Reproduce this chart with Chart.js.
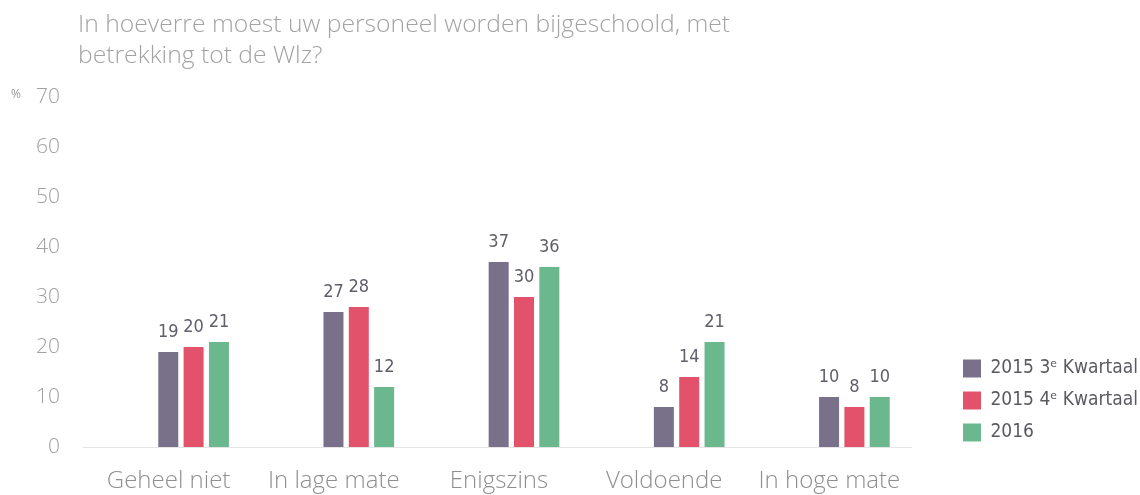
<!DOCTYPE html>
<html><head><meta charset="utf-8">
<script src="https://cdn.jsdelivr.net/npm/chart.js@4"></script>
<style>html,body{margin:0;padding:0;background:#fff}#wrap{width:1140px;height:495px;position:relative}</style>
</head><body><div id="wrap"><canvas id="c" width="1140" height="495"></canvas></div>
<script>
const titleLines = ['In hoeverre moest uw personeel worden bijgeschoold, met', 'betrekking tot de Wlz?'];
const unitLabel = '%';
const categories = ['Geheel niet', 'In lage mate', 'Enigszins', 'Voldoende', 'In hoge mate'];
const seriesNames = ['2015 3\u1D49 Kwartaal', '2015 4\u1D49 Kwartaal', '2016'];
const q3_2015 = [19, 27, 37, 8, 10];
const q4_2015 = [20, 28, 30, 14, 8];
const y2016 = [21, 12, 36, 21, 10];
const yTicks = [0, 10, 20, 30, 40, 50, 60, 70];
const colors = ['#79718a', '#e2536b', '#6bb88e'];

const LIGHT = '"Open Sans", "DejaVu Sans", sans-serif';
const COND = '"DejaVu Sans Condensed", "DejaVu Sans", sans-serif';

const decor = {
  id: 'decor',
  afterLayout(chart) {
    if (chart.legend) { chart.legend.top += 8; chart.legend.bottom += 8; }
  },
  beforeDatasetsDraw(chart) {
    const ctx = chart.ctx, a = chart.chartArea, y0 = chart.scales.y.getPixelForValue(0);
    ctx.save();
    ctx.strokeStyle = '#e4e4e4'; ctx.lineWidth = 1;
    ctx.beginPath(); ctx.moveTo(a.left - 28, Math.round(y0) + 0.5); ctx.lineTo(a.right - 25, Math.round(y0) + 0.5); ctx.stroke();
    ctx.restore();
  },
  afterDraw(chart) {
    const ctx = chart.ctx;
    ctx.save();
    ctx.fillStyle = '#a3a3a3';
    ctx.font = '300 24.7px ' + LIGHT;
    ctx.textBaseline = 'alphabetic'; ctx.textAlign = 'left';
    titleLines.forEach((t, i) => ctx.fillText(t, 78, 32 + i * 31));
    ctx.font = '12px ' + LIGHT; ctx.fillStyle = '#9a9a9a';
    ctx.fillText(unitLabel, 11, chart.scales.y.getPixelForValue(70) + 1);
    ctx.font = '18px ' + COND; ctx.fillStyle = '#605e6a'; ctx.textAlign = 'center'; ctx.textBaseline = 'bottom';
    chart.data.datasets.forEach((ds, di) => {
      chart.getDatasetMeta(di).data.forEach((bar, i) => {
        ctx.fillText(String(ds.data[i]), bar.x, bar.y - 11);
      });
    });
    ctx.restore();
  }
};

new Chart(document.getElementById('c'), {
  type: 'bar',
  data: {
    labels: categories,
    datasets: [
      { label: seriesNames[0], data: q3_2015, backgroundColor: colors[0] },
      { label: seriesNames[1], data: q4_2015, backgroundColor: colors[1] },
      { label: seriesNames[2], data: y2016, backgroundColor: colors[2] }
    ]
  },
  options: {
    responsive: false, animation: false,
    layout: { padding: { top: 97, bottom: 0, left: 0, right: 0 } },
    datasets: { bar: { categoryPercentage: 0.46, barPercentage: 0.79 } },
    scales: {
      x: {
        grid: { display: false, drawTicks: false }, border: { display: false },
        ticks: { color: '#8f8f8f', font: { family: LIGHT, size: 24, weight: 300 }, padding: 20, labelOffset: -25, maxRotation: 0, autoSkip: false },
        afterFit: s => { s.height = 48; s.paddingTop = 0; s.paddingBottom = 0; }
      },
      y: {
        min: 0, max: 70,
        afterBuildTicks: s => { s.ticks = yTicks.map(v => ({ value: v })); },
        grid: { display: false, drawTicks: false }, border: { display: false },
        ticks: { color: '#a0a0a0', font: { family: LIGHT, size: 21, weight: 300 }, padding: 51 },
        afterFit: s => { s.width = 111; s.paddingTop = 0; s.paddingBottom = 0; }
      },
      yR: {
        position: 'right', display: true, grid: { display: false, drawTicks: false }, border: { display: false },
        ticks: { display: false }, afterFit: s => { s.width = 13; s.paddingTop = 0; s.paddingBottom = 0; }
      }
    },
    plugins: {
      legend: {
        position: 'right', align: 'end', fullSize: false,
        labels: { boxWidth: 18, boxHeight: 18, padding: 13, color: '#5a5a60', font: { family: COND, size: 19 } }
      },
      tooltip: { enabled: false }
    }
  },
  plugins: [decor]
});
</script></body></html>
